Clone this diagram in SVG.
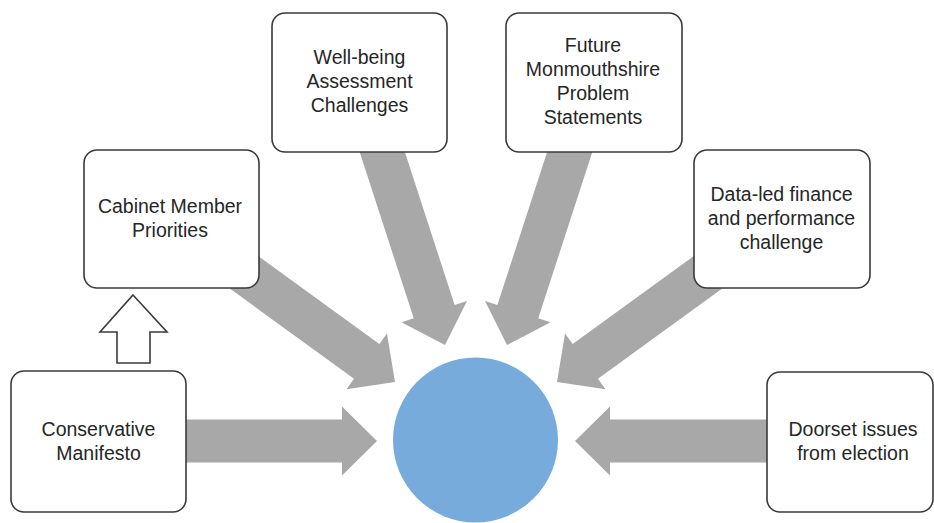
<svg xmlns="http://www.w3.org/2000/svg" xmlns:xlink="http://www.w3.org/1999/xlink" width="934" height="523" viewBox="0 0 934 523">
<style>
.box{fill:#fff;stroke:#3a3a3a;stroke-width:1.6}
.t{font-family:"Liberation Sans",Arial,sans-serif;font-size:19.5px;fill:#262626;text-anchor:middle}
.arr{fill:#a8a8a8}
</style>
<defs>
<path id="arr" d="M0,0 L-35,-34.5 L-35,-21.5 L-277,-21.5 L-277,21.5 L-35,21.5 L-35,34.5 Z"/>
</defs>
<rect width="934" height="523" fill="#fff"/>
<g id="connectors" class="arr">
<use xlink:href="#arr" href="#arr" transform="translate(377,441)"/>
<use xlink:href="#arr" href="#arr" transform="translate(395,382) rotate(36)"/>
<use xlink:href="#arr" href="#arr" transform="translate(445,345) rotate(72)"/>
<use xlink:href="#arr" href="#arr" transform="translate(507,345) rotate(108)"/>
<use xlink:href="#arr" href="#arr" transform="translate(557,382) rotate(144)"/>
<use xlink:href="#arr" href="#arr" transform="translate(575,441) rotate(180)"/>
<path d="M133,295 L167,332 L150,332 L150,363 L117,363 L117,332 L100,332 Z" fill="#fff" stroke="#3a3a3a" stroke-width="1.6"/>
</g>
<g id="centre"><circle cx="475.5" cy="440" r="82.5" fill="#77abdc"/></g>
<g id="conservative">
<rect class="box" x="11" y="371" width="175" height="141" rx="13"/>
<text class="t" x="98.5" y="436">Conservative</text>
<text class="t" x="98.5" y="460">Manifesto</text>
</g>
<g id="cabinet">
<rect class="box" x="84" y="150" width="175" height="138" rx="13"/>
<text class="t" x="170" y="213">Cabinet Member</text>
<text class="t" x="170" y="237">Priorities</text>
</g>
<g id="wellbeing">
<rect class="box" x="272" y="13" width="175" height="139" rx="13"/>
<text class="t" x="359.5" y="64">Well-being</text>
<text class="t" x="359.5" y="88">Assessment</text>
<text class="t" x="359.5" y="112">Challenges</text>
</g>
<g id="future">
<rect class="box" x="506" y="13" width="176" height="139" rx="13"/>
<text class="t" x="593" y="52">Future</text>
<text class="t" x="593" y="76">Monmouthshire</text>
<text class="t" x="593" y="100">Problem</text>
<text class="t" x="593" y="124">Statements</text>
</g>
<g id="dataled">
<rect class="box" x="694" y="150" width="176" height="138" rx="13"/>
<text class="t" x="781.5" y="201">Data-led finance</text>
<text class="t" x="781.5" y="225">and performance</text>
<text class="t" x="781.5" y="249">challenge</text>
</g>
<g id="doorset">
<rect class="box" x="767" y="372" width="166" height="140" rx="13"/>
<text class="t" x="853" y="436">Doorset issues</text>
<text class="t" x="853" y="460">from election</text>
</g>
</svg>
